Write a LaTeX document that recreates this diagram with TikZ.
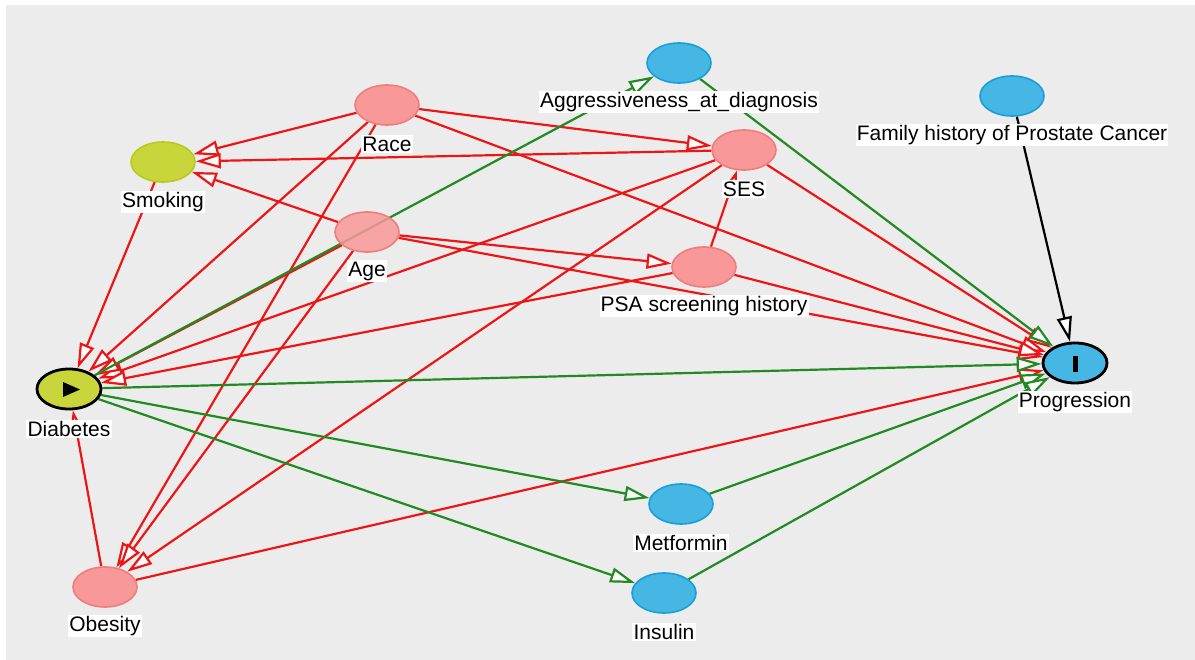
\documentclass[tikz,border=0pt]{standalone}
\usepackage{fontspec}
\setmainfont{Liberation Sans}
\usetikzlibrary{shapes.geometric,arrows.meta}
\pgfdeclarelayer{bg}
\pgfdeclarelayer{fg}
\pgfsetlayers{bg,main,fg}
\definecolor{bggray}{RGB}{236,236,236}
\definecolor{pinkfill}{RGB}{248,152,152}
\definecolor{pinkdraw}{RGB}{240,125,125}
\definecolor{bluefill}{RGB}{70,182,228}
\definecolor{bluedraw}{RGB}{25,158,216}
\definecolor{ygfill}{RGB}{200,214,60}
\definecolor{ygdraw}{RGB}{182,202,30}
\definecolor{edgered}{RGB}{236,22,22}
\definecolor{edgegreen}{RGB}{34,138,34}
\begin{document}
\begin{tikzpicture}[x=1pt,y=-1pt,
  var/.style={ellipse, minimum width=64pt, minimum height=40pt, inner sep=0pt, line width=1.6pt},
  pinknode/.style={var, fill=pinkfill, draw=pinkdraw},
  bluenode/.style={var, fill=bluefill, draw=bluedraw},
  ygnode/.style={var, fill=ygfill, draw=ygdraw},
  keynode/.style={var, draw=black, line width=2.8pt},
  lbl/.style={fill=white, inner sep=1.2pt, text=black, font=\fontsize{21}{24}\selectfont},
  edge/.style={line width=2.2pt, -{Triangle[length=25pt,width=15pt,fill=white]}},
  redge/.style={edge, draw=edgered},
  gedge/.style={edge, draw=edgegreen},
  kedge/.style={edge, draw=black}]
\useasboundingbox (0,0) rectangle (1195,660);

% nodes
\node[bluenode] (aggr) at (679,63) {};
\node[bluenode] (fam) at (1012,96) {};
\node[pinknode] (race) at (387,105) {};
\node[pinknode] (ses) at (744,150) {};
\node[ygnode] (smok) at (163,162) {};
\node[pinknode, fill opacity=0.85] (age) at (367,232) {};
\node[pinknode] (psa) at (704,267) {};
\node[keynode, fill=ygfill] (diab) at (69,389) {};
\node[keynode, fill=bluefill] (prog) at (1075,363) {};
\node[bluenode] (met) at (681,504) {};
\node[bluenode] (ins) at (664,593) {};
\node[pinknode] (obes) at (105,587) {};

% markers
\fill[black] (63,382) -- (63,397) -- (80,389.5) -- cycle;
\fill[black] (1073,356) rectangle (1078,372);

% edges
\begin{pgfonlayer}{bg}
\fill[bggray] (6,5) rectangle (1195,660);
\draw[redge] (race) -- (smok);
\draw[redge] (race) -- (ses);
\draw[redge] (race) -- (diab);
\draw[redge] (race) -- (obes);
\draw[redge] (race) -- (prog);
\draw[redge] (ses) -- (smok);
\draw[redge] (ses) -- (diab);
\draw[redge] (ses) -- (obes);
\draw[redge] (ses) -- (prog);
\draw[redge] (age) -- (smok);
\draw[redge] (age) -- (psa);
\draw[redge] (age) -- (prog);
\draw[redge] (age) -- (diab);
\draw[redge] (age) -- (obes);
\draw[redge] (psa) -- (ses);
\draw[redge] (psa) -- (diab);
\draw[redge] (psa) -- (prog);
\draw[redge] (smok) -- (diab);
\draw[redge] (obes) -- (diab);
\draw[redge] (obes) -- (prog);
\draw[gedge] (diab) -- (aggr);
\draw[gedge] (aggr) -- (prog);
\draw[gedge] (diab) -- (prog);
\draw[gedge] (diab) -- (met);
\draw[gedge] (diab) -- (ins);
\draw[gedge] (met) -- (prog);
\draw[gedge] (ins) -- (prog);
\draw[kedge] (fam) -- (prog);
\end{pgfonlayer}

% labels
\begin{pgfonlayer}{fg}
\node[lbl] (laggr) at (679,102) {Aggressiveness\_at\_diagnosis};
\node[lbl] (lfam) at (1012,135) {Family history of Prostate Cancer};
\node[lbl] (lrace) at (387,144) {Race};
\node[lbl] (lses) at (744,189) {SES};
\node[lbl] (lsmok) at (163,202) {Smoking};
\node[lbl] (lage) at (367,271) {Age};
\node[lbl] (lpsa) at (704,306) {PSA screening history};
\node[lbl] (ldiab) at (69,429) {Diabetes};
\node[lbl] (lprog) at (1075,402) {Progression};
\node[lbl] (lmet) at (681,543) {Metformin};
\node[lbl] (lins) at (664,632) {Insulin};
\node[lbl] (lobes) at (105,626) {Obesity};
\end{pgfonlayer}
\end{tikzpicture}
\end{document}
